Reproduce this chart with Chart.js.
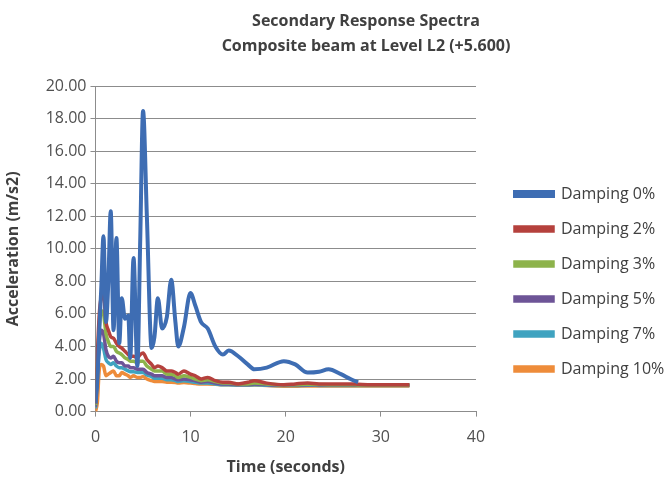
<!DOCTYPE html>
<html>
<head>
<meta charset="utf-8">
<script src="https://cdn.jsdelivr.net/npm/chart.js@4.4.1/dist/chart.umd.min.js"></script>
<style>
  html, body { margin: 0; padding: 0; background: #ffffff; }
  #wrap { width: 672px; height: 481px; }
</style>
</head>
<body>
<div id="wrap"><canvas id="c" width="672" height="481"></canvas></div>
<script>
const titleLines = ["Secondary Response Spectra", "Composite beam at Level L2 (+5.600)"];
const xTitle = "Time (seconds)";
const yTitle = "Acceleration (m/s2)";
const seriesNames = ["Damping 0%", "Damping 2%", "Damping 3%", "Damping 5%", "Damping 7%", "Damping 10%"];
const seriesColors = ["#3E6DB3", "#B5413D", "#8DB34B", "#6D5497", "#3FA3C0", "#EE8C3A"];

const times = [0, 0.2, 0.4, 0.6, 0.84, 1.1, 1.35, 1.6, 1.9, 2.2, 2.5, 2.76, 3.1, 3.45, 3.65, 4.0, 4.4, 4.7, 5.0, 5.4, 5.9, 6.2, 6.56, 7.0, 7.5, 7.96, 8.4, 8.7, 9.3, 9.98, 10.5, 11.1, 11.8, 12.6, 13.4, 14.0, 15.0, 16.0, 16.7, 18.0, 19.8, 21.0, 22.3, 23.5, 24.5, 25.8, 26.8, 27.6, 29.0, 31.0, 33.0];

const damping0 = [0.5, 2.0, 5.0, 7.5, 10.77, 5.5, 8.0, 12.3, 5.0, 10.66, 4.2, 6.97, 5.7, 5.9, 3.3, 9.43, 2.8, 10.5, 18.46, 12.0, 3.9, 4.6, 6.97, 5.1, 5.8, 8.1, 5.5, 4.0, 5.2, 7.28, 6.5, 5.5, 5.1, 4.0, 3.5, 3.75, 3.4, 2.9, 2.6, 2.7, 3.1, 2.9, 2.4, 2.45, 2.6, 2.3, 2.0, 1.8, null, null, null];
const damping2 = [0.5, 3.5, 6.0, 7.0, 7.2, 5.5, 5.0, 4.6, 4.5, 4.2, 4.0, 3.9, 3.7, 3.5, 3.4, 3.4, 3.3, 3.5, 3.6, 3.2, 2.9, 2.7, 2.8, 2.7, 2.5, 2.5, 2.4, 2.3, 2.5, 2.3, 2.2, 2.0, 2.1, 1.9, 1.8, 1.8, 1.7, 1.8, 1.9, 1.75, 1.65, 1.7, 1.75, 1.7, 1.7, 1.7, 1.7, 1.68, 1.65, 1.65, 1.65];
const damping3 = [0.4, 3.0, 5.2, 6.2, 6.0, 4.8, 4.3, 4.0, 4.0, 3.7, 3.6, 3.5, 3.3, 3.2, 3.1, 3.1, 3.0, 3.1, 3.1, 2.8, 2.6, 2.5, 2.5, 2.5, 2.3, 2.3, 2.2, 2.1, 2.2, 2.1, 2.0, 1.9, 1.95, 1.85, 1.75, 1.75, 1.7, 1.7, 1.75, 1.7, 1.65, 1.65, 1.68, 1.66, 1.65, 1.65, 1.65, 1.64, 1.63, 1.63, 1.63];
const damping5 = [0.3, 2.5, 4.3, 5.0, 4.8, 3.8, 3.4, 3.3, 3.4, 3.1, 3.0, 3.0, 2.8, 2.8, 2.7, 2.7, 2.6, 2.6, 2.6, 2.4, 2.3, 2.2, 2.2, 2.2, 2.1, 2.1, 2.0, 1.95, 2.0, 1.95, 1.9, 1.8, 1.85, 1.75, 1.7, 1.7, 1.66, 1.66, 1.7, 1.66, 1.63, 1.63, 1.65, 1.64, 1.63, 1.63, 1.63, 1.62, 1.62, 1.62, 1.62];
const damping7 = [0.2, 2.2, 3.7, 4.2, 3.9, 3.2, 3.0, 2.9, 3.0, 2.8, 2.7, 2.7, 2.6, 2.5, 2.45, 2.45, 2.4, 2.4, 2.4, 2.25, 2.15, 2.05, 2.05, 2.05, 1.95, 1.95, 1.9, 1.85, 1.9, 1.85, 1.8, 1.75, 1.75, 1.7, 1.65, 1.65, 1.63, 1.63, 1.65, 1.62, 1.6, 1.6, 1.62, 1.61, 1.6, 1.6, 1.6, 1.6, 1.6, 1.6, 1.6];
const damping10 = [0.0, 0.6, 2.6, 2.9, 2.8, 2.2, 2.3, 2.4, 2.5, 2.2, 2.2, 2.4, 2.3, 2.2, 2.1, 2.2, 2.1, 2.1, 2.15, 2.0, 1.9, 1.85, 1.85, 1.85, 1.8, 1.8, 1.78, 1.75, 1.78, 1.75, 1.72, 1.7, 1.7, 1.68, 1.65, 1.65, 1.62, 1.62, 1.63, 1.6, 1.56, 1.55, 1.58, 1.58, 1.58, 1.58, 1.58, 1.58, 1.58, 1.58, 1.58];

const seriesValues = [damping0, damping2, damping3, damping5, damping7, damping10];
const xTicks = [0, 10, 20, 30, 40];
const yMin = 0, yMax = 20, yStep = 2;

const FONT = "'Open Sans', 'Liberation Sans', sans-serif";
const TEXT = "#404040";
const TICKTEXT = "#505050";

const datasets = seriesNames.map((name, k) => ({
  label: name,
  data: times.map((t, i) => ({ x: t, y: seriesValues[k][i] })),
  borderColor: seriesColors[k],
  backgroundColor: seriesColors[k],
  borderWidth: k === 0 ? 4 : 3.5,
  pointRadius: 0,
  tension: 0.3,
  cubicInterpolationMode: 'monotone',
  fill: false,
  spanGaps: false
}));

const titlePlugin = {
  id: 'twoLineTitle',
  afterDraw(chart) {
    const ctx = chart.ctx;
    ctx.save();
    ctx.font = "bold 16px " + FONT;
    ctx.fillStyle = TEXT;
    ctx.textAlign = 'center';
    ctx.textBaseline = 'middle';
    const cx = 366;
    titleLines.forEach((ln, i) => ctx.fillText(ln, cx, 21 + i * 25));
    ctx.restore();
  }
};

new Chart(document.getElementById('c'), {
  type: 'line',
  data: { datasets },
  plugins: [titlePlugin],
  options: {
    responsive: false,
    animation: false,
    layout: { padding: { top: 86, right: 0, bottom: 4, left: 4 } },
    plugins: {
      title: { display: false },
      tooltip: { enabled: false },
      legend: {
        position: 'right',
        align: 'center',
        maxWidth: 176,
        labels: {
          boxWidth: 38,
          boxHeight: 4,
          padding: 19,
          color: TEXT,
          font: { family: FONT, size: 16 }
        }
      }
    },
    scales: {
      x: {
        type: 'linear',
        min: 0, max: 40,
        afterBuildTicks(axis) { axis.ticks = xTicks.map(v => ({ value: v })); },
        ticks: { color: TICKTEXT, font: { family: FONT, size: 16 }, padding: 11 },
        grid: { drawOnChartArea: false, drawTicks: true, tickLength: 5, color: '#8c8c8c' },
        border: { color: '#8c8c8c', width: 1 },
        title: { display: true, text: xTitle, color: TEXT, font: { family: FONT, size: 16, weight: 'bold' }, padding: { top: 0, bottom: 0 } }
      },
      y: {
        min: yMin, max: yMax,
        ticks: { stepSize: yStep, color: TICKTEXT, font: { family: FONT, size: 16 }, padding: 4, callback: v => Number(v).toFixed(2) },
        grid: { color: '#8c8c8c', tickLength: 5 },
        border: { color: '#8c8c8c', width: 1 },
        title: { display: true, text: yTitle, color: TEXT, font: { family: FONT, size: 16, weight: 'bold' }, padding: { top: 0, bottom: 18.5 } }
      },
      gap: {
        type: 'linear',
        position: 'right',
        display: true,
        weight: 0,
        ticks: { display: false },
        grid: { display: false, drawTicks: false },
        border: { display: false },
        afterFit(scale) { scale.width = 20; }
      }
    }
  }
});
</script>
</body>
</html>
